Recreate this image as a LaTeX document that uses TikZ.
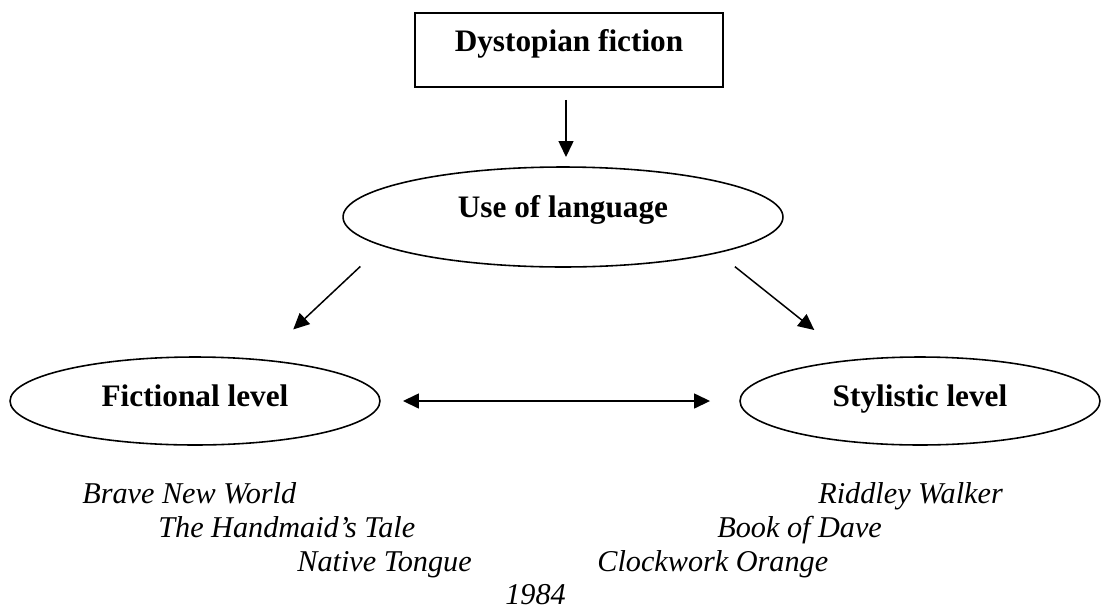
\documentclass[tikz,border=0pt]{standalone}
\usepackage{fontspec}
\setmainfont{Liberation Serif}
\usepackage{tikz}
\usetikzlibrary{shapes.geometric, arrows.meta, positioning}

\begin{document}
\begin{tikzpicture}[
    x=0.02cm, y=-0.02cm,
    box/.style={rectangle, draw, line width=1.1pt, minimum width=6.16cm, minimum height=1.48cm, outer sep=0pt, text height=0.35cm, text depth=0.3cm, font=\fontsize{17.8}{21}\selectfont\bfseries},
    level/.style={ellipse, draw, line width=0.9pt, outer sep=0pt, inner sep=0pt, text height=0.5cm, text depth=0.3cm, font=\fontsize{17.8}{21}\selectfont\bfseries},
    title/.style={anchor=base west, inner sep=0pt, font=\fontsize{17.2}{20}\selectfont\itshape},
    arrow/.style={-{Triangle[length=0.32cm, width=0.3cm]}, line width=0.85pt}
]
    \useasboundingbox (0,0) rectangle (1102,609);

    \node[box] (dystopia) at (569,50) {Dystopian fiction};
    \node[level, minimum width=8.8cm, minimum height=2cm, text height=0.4cm, text depth=0.4cm] (language) at (563,217) {Use of language};
    \node[level, minimum width=7.4cm, minimum height=1.76cm] (fictional) at (195,401) {Fictional level};
    \node[level, minimum width=7.2cm, minimum height=1.76cm] (stylistic) at (920,401) {Stylistic level};

    \draw[arrow, shorten <=0.26cm, shorten >=0.2cm] ([xshift=-0.06cm]dystopia.south) -- ([xshift=-0.06cm]dystopia.south |- language.north);
    \draw[arrow, shorten <=0.61cm, shorten >=0.89cm] (language.189.5) -- (fictional.32.4);
    \draw[arrow, shorten <=0.45cm, shorten >=0.97cm] (language.347.8) -- (stylistic.149);
    \draw[arrow, {Triangle[length=0.32cm, width=0.3cm]}-{Triangle[length=0.32cm, width=0.3cm]}, shorten <=0.46cm, shorten >=0.6cm] (fictional.east) -- (stylistic.west);

    \node[title] (brave) at (82,503) {Brave New World};
    \node[title] (handmaid) at (158,537) {The Handmaid’s Tale};
    \node[title] (native) at (297,571) {Native Tongue};
    \node[title] (nineteen) at (505,604) {1984};
    \node[title] (riddley) at (818,503) {Riddley Walker};
    \node[title] (dave) at (717,537) {Book of Dave};
    \node[title] (clockwork) at (597,571) {Clockwork Orange};
\end{tikzpicture}
\end{document}
